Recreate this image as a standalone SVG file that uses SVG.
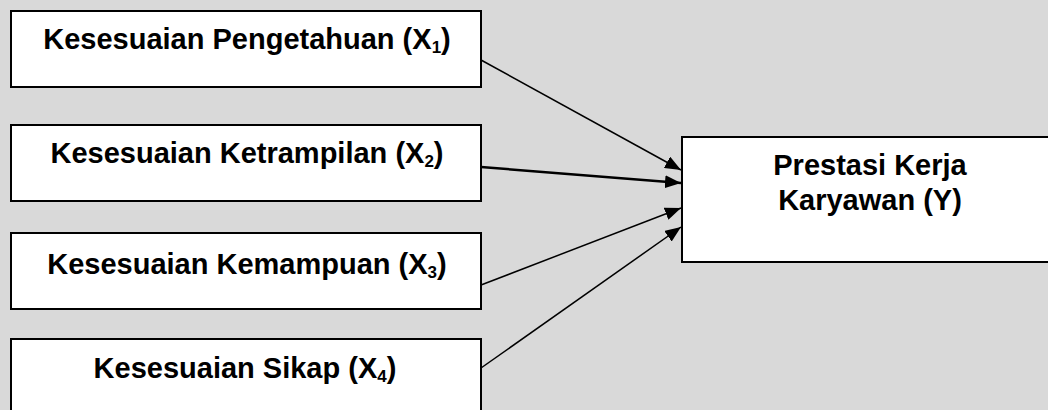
<svg xmlns="http://www.w3.org/2000/svg" width="1048" height="410" viewBox="0 0 1048 410">
  <style>
    .box { fill: #ffffff; stroke: #000000; stroke-width: 2; }
    .lbl { font-family: "Liberation Sans", Arial, sans-serif; font-size: 29px; font-weight: bold; fill: #000000; text-anchor: middle; }
    .sub { font-size: 17px; }
    .conn { stroke: #000000; stroke-width: 1.5; fill: none; marker-end: url(#arrowhead); }
    .thick { stroke-width: 2.5; }
  </style>
  <defs>
    <marker id="arrowhead" viewBox="0 0 16 13" refX="16" refY="6.5" markerWidth="16" markerHeight="13" markerUnits="userSpaceOnUse" orient="auto">
      <path d="M0,0 L16,6.5 L0,13 z" fill="#000000"/>
    </marker>
  </defs>
  <rect x="0" y="0" width="1048" height="410" fill="#d9d9d9"/>

  <g id="connectors">
    <line class="conn" x1="481" y1="60" x2="681" y2="170"/>
    <line class="conn thick" x1="481" y1="167" x2="681" y2="183"/>
    <line class="conn" x1="481" y1="285" x2="681" y2="208"/>
    <line class="conn" x1="481" y1="368" x2="681" y2="227"/>
  </g>

  <g id="x1">
    <rect class="box" x="11" y="11" width="470" height="76"/>
    <text class="lbl" x="247" y="49">Kesesuaian Pengetahuan (X<tspan class="sub" dy="4">1</tspan><tspan dy="-4">)</tspan></text>
  </g>
  <g id="x2">
    <rect class="box" x="11" y="125" width="470" height="76"/>
    <text class="lbl" x="247" y="163">Kesesuaian Ketrampilan (X<tspan class="sub" dy="4">2</tspan><tspan dy="-4">)</tspan></text>
  </g>
  <g id="x3">
    <rect class="box" x="11" y="233" width="470" height="76"/>
    <text class="lbl" x="247" y="274">Kesesuaian Kemampuan (X<tspan class="sub" dy="4">3</tspan><tspan dy="-4">)</tspan></text>
  </g>
  <g id="x4">
    <rect class="box" x="11" y="339" width="470" height="80"/>
    <text class="lbl" x="245" y="378">Kesesuaian Sikap (X<tspan class="sub" dy="4">4</tspan><tspan dy="-4">)</tspan></text>
  </g>
  <g id="y">
    <rect class="box" x="682" y="137" width="376" height="125"/>
    <text class="lbl" x="870" y="175">Prestasi Kerja</text>
    <text class="lbl" x="870" y="210">Karyawan (Y)</text>
  </g>
</svg>
